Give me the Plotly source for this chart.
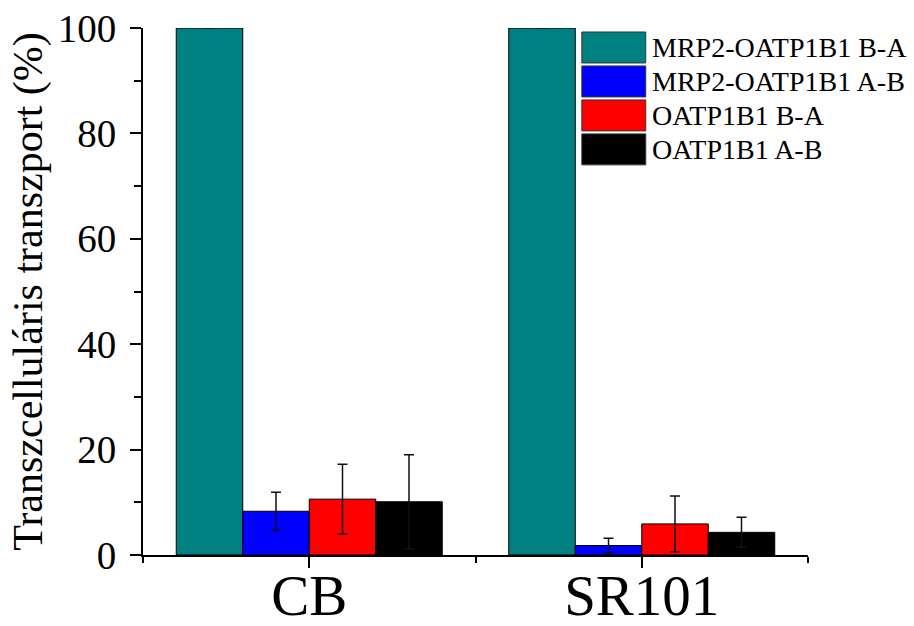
import plotly.graph_objects as go

categories = ["CB", "SR101"]
series_names = ["MRP2-OATP1B1 B-A", "MRP2-OATP1B1 A-B", "OATP1B1 B-A", "OATP1B1 A-B"]
series_colors = ["#008080", "#0000FF", "#FF0000", "#000000"]
values = [
    [100.0, 100.0],
    [8.3, 1.8],
    [10.6, 5.9],
    [10.1, 4.3],
]
errors = [
    [0.0, 0.0],
    [3.6, 1.4],
    [6.6, 5.3],
    [8.9, 2.85],
]
y_ticks = [0, 20, 40, 60, 80, 100]

W, H = 914, 626
L, R, T, B = 142.5, 105.5, 28, 70.5
PW, PH = W - L - R, H - T - B

def px(xp):
    return (xp - L) / PW

def py(yp):
    return (H - B - yp) / PH

FONT = "Liberation Serif, Times New Roman, serif"
xpos = list(range(len(categories)))

fig = go.Figure()
for name, col, v, e in zip(series_names, series_colors, values, errors):
    fig.add_trace(go.Bar(
        x=xpos, y=v, name=name,
        marker=dict(color=col, line=dict(color="#000000", width=1)),
        error_y=dict(type="data", array=e, visible=True, color="#111111",
                     thickness=1.5, width=5),
        showlegend=False,
    ))

# legend drawn manually (large swatches as in the reference)
sw_x0, sw_x1 = 582, 646
sw_top, sw_h, sw_gap = 32, 31, 34
shapes = []
annotations = []
for i, (name, col) in enumerate(zip(series_names, series_colors)):
    y0 = sw_top + i * sw_gap
    shapes.append(dict(type="rect", xref="paper", yref="paper",
                       x0=px(sw_x0), x1=px(sw_x1), y0=py(y0 + sw_h), y1=py(y0),
                       fillcolor=col, line=dict(color="#333333", width=1)))
    annotations.append(dict(xref="paper", yref="paper", x=px(650), y=py(y0 + sw_h / 2),
                            text=name, showarrow=False, xanchor="left", yanchor="middle",
                            font=dict(family=FONT, size=28, color="#000000")))

fig.update_layout(
    width=W, height=H,
    margin=dict(l=L, r=R, t=T, b=B, pad=0, autoexpand=False),
    paper_bgcolor="white", plot_bgcolor="white",
    barmode="group", bargap=0.2, bargroupgap=0,
    font=dict(family=FONT, color="#000000"),
    shapes=shapes, annotations=annotations,
    xaxis=dict(
        range=[-0.5, 1.5], tickmode="array", tickvals=xpos, ticktext=categories,
        showline=True, linecolor="#000000", linewidth=2,
        ticks="outside", ticklen=11, tickwidth=2, tickcolor="#000000",
        minor=dict(tick0=-0.5, dtick=1, ticks="outside", ticklen=6, tickwidth=2,
                   tickcolor="#000000", showgrid=False),
        tickfont=dict(family=FONT, size=57, color="#000000"),
        ticklabelstandoff=-21,
        showgrid=False, zeroline=False, fixedrange=True, automargin=False,
    ),
    yaxis=dict(
        range=[0, 100], tickmode="array", tickvals=y_ticks,
        showline=True, linecolor="#000000", linewidth=2,
        ticks="outside", ticklen=11, tickwidth=2, tickcolor="#000000",
        minor=dict(tick0=0, dtick=10, ticks="outside", ticklen=7, tickwidth=2,
                   tickcolor="#000000", showgrid=False),
        tickfont=dict(family=FONT, size=39, color="#000000"),
        ticklabelstandoff=6,
        title=dict(text="Transzcelluláris transzport (%)",
                   font=dict(family=FONT, size=42, color="#000000"), standoff=2),
        showgrid=False, zeroline=False, fixedrange=True, automargin=False,
    ),
)

fig.write_html("out.html")
